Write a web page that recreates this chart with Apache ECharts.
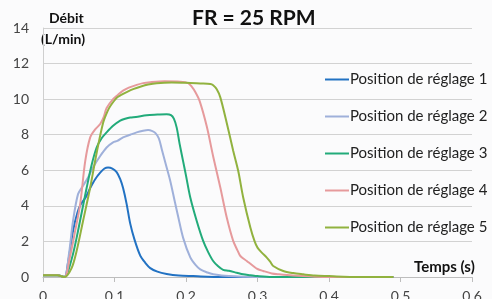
<!DOCTYPE html>
<html>
<head>
<meta charset="utf-8">
<script src="https://cdn.jsdelivr.net/npm/echarts@6/dist/echarts.min.js"></script>
<style>
  html, body { margin: 0; padding: 0; background: #fbfbfc; }
  #chart { width: 492px; height: 299px; }
</style>
</head>
<body>
<div id="chart"></div>
<script>
// débit (L/min) en fonction du temps (s)
var seriesNames = ['Position de réglage 1', 'Position de réglage 2', 'Position de réglage 3', 'Position de réglage 4', 'Position de réglage 5']
var xTicks = [0, 0.1, 0.2, 0.3, 0.4, 0.5, 0.6]
var yTicks = [0, 2, 4, 6, 8, 10, 12, 14]

var pos1 = [[0, 0.1], [0.02, 0.1], [0.03, 0], [0.035, 0.8], [0.042, 2.6], [0.048, 3.6], [0.053, 4.1], [0.06, 4.5],
  [0.066, 5.0], [0.073, 5.5], [0.08, 5.87], [0.086, 6.1], [0.091, 6.16], [0.097, 6.1], [0.103, 5.9], [0.108, 5.5],
  [0.112, 5.0], [0.117, 4.1], [0.122, 3.0], [0.128, 2.1], [0.136, 1.2], [0.143, 0.8], [0.15, 0.5], [0.16, 0.3],
  [0.173, 0.17], [0.19, 0.08], [0.21, 0.05], [0.23, 0.02], [0.26, 0], [0.49, 0]]
var pos2 = [[0, 0.1], [0.02, 0.1], [0.03, 0], [0.036, 1.2], [0.042, 3.15], [0.049, 4.66], [0.056, 5.13], [0.063, 5.6],
  [0.07, 6.16], [0.08, 6.8], [0.089, 7.28], [0.098, 7.57], [0.104, 7.65], [0.112, 7.85], [0.122, 8.0], [0.131, 8.13],
  [0.14, 8.22], [0.147, 8.26], [0.153, 8.2], [0.157, 8.1], [0.162, 7.8], [0.166, 7.2], [0.172, 6.3], [0.178, 5.4],
  [0.184, 4.3], [0.189, 3.4], [0.196, 2.2], [0.206, 1.1], [0.213, 0.7], [0.22, 0.43], [0.23, 0.25], [0.238, 0.15],
  [0.25, 0.08], [0.26, 0.05], [0.28, 0.02], [0.3, 0], [0.49, 0]]
var pos3 = [[0, 0.1], [0.02, 0.1], [0.03, 0], [0.04, 1.0], [0.047, 2.2], [0.054, 3.6], [0.061, 5.0], [0.068, 6.3],
  [0.075, 7.28], [0.082, 7.8], [0.089, 8.13], [0.098, 8.5], [0.108, 8.79], [0.115, 8.9], [0.122, 8.97], [0.13, 9.0],
  [0.145, 9.1], [0.16, 9.13], [0.173, 9.15], [0.179, 9.1], [0.183, 8.9], [0.187, 8.4], [0.191, 7.5], [0.196, 6.5],
  [0.2, 5.7], [0.206, 4.47], [0.215, 3.15], [0.224, 2.03], [0.231, 1.4], [0.238, 0.9], [0.245, 0.6], [0.252, 0.4],
  [0.26, 0.35], [0.271, 0.24], [0.28, 0.15], [0.29, 0.1], [0.3, 0.05], [0.32, 0], [0.49, 0]]
var pos4 = [[0, 0.1], [0.02, 0.1], [0.03, 0], [0.038, 1.2], [0.045, 2.6], [0.052, 4.1], [0.059, 6.5], [0.066, 7.85],
  [0.073, 8.3], [0.08, 8.6], [0.085, 9.0], [0.089, 9.5], [0.098, 10.0], [0.105, 10.25], [0.112, 10.48], [0.12, 10.65],
  [0.131, 10.8], [0.14, 10.9], [0.15, 10.95], [0.17, 11.0], [0.192, 10.98], [0.203, 10.9], [0.208, 10.7], [0.213, 10.4],
  [0.219, 9.9], [0.229, 8.47], [0.238, 6.78], [0.248, 5.03], [0.257, 3.34], [0.266, 2.03], [0.272, 1.5], [0.276, 1.18],
  [0.285, 0.9], [0.294, 0.62], [0.3, 0.45], [0.308, 0.34], [0.32, 0.2], [0.33, 0.15], [0.35, 0.08], [0.38, 0.02],
  [0.4, 0], [0.49, 0]]
var pos5 = [[0, 0.1], [0.02, 0.1], [0.03, 0], [0.04, 0.5], [0.047, 1.46], [0.056, 3.15], [0.066, 5.03], [0.075, 6.97],
  [0.084, 8.66], [0.09, 9.3], [0.094, 9.6], [0.103, 10.07], [0.11, 10.25], [0.117, 10.4], [0.127, 10.58], [0.136, 10.7],
  [0.147, 10.82], [0.159, 10.9], [0.18, 10.94], [0.2, 10.92], [0.22, 10.88], [0.234, 10.85], [0.238, 10.78], [0.243, 10.55],
  [0.248, 10.1], [0.257, 8.66], [0.266, 7.1], [0.273, 5.97], [0.28, 4.47], [0.29, 2.78], [0.296, 2.0], [0.3, 1.65],
  [0.306, 1.37], [0.313, 1.09], [0.318, 0.85], [0.322, 0.62], [0.336, 0.34], [0.35, 0.22], [0.364, 0.15], [0.38, 0.08],
  [0.4, 0.05], [0.42, 0.02], [0.45, 0], [0.49, 0]]

var allData = [pos1, pos2, pos3, pos4, pos5]
var colors = ['#2272c3', '#9fb0da', '#22ab7a', '#e69a9c', '#91b23f']

var chart = echarts.init(document.getElementById('chart'))
chart.setOption({
  backgroundColor: '#fbfbfc',
  animation: false,
  color: colors,
  textStyle: { fontFamily: 'Lato' },
  grid: { left: 43, right: 20, top: 28, bottom: 22, outerBoundsMode: 'none' },
  graphic: [
    { type: 'text', left: 192, top: 8, style: { text: 'FR = 25 RPM', font: 'bold 21px Lato', fill: '#111' } },
    { type: 'text', left: 49, top: 11, style: { text: 'Débit', font: 'bold 14px Lato', fill: '#111' } },
    { type: 'text', left: 41, top: 32, style: { text: '(L/min)', font: 'bold 14px Lato', fill: '#111' } },
    { type: 'text', left: 414, top: 260, style: { text: 'Temps (s)', font: 'bold 15px Lato', fill: '#111' } }
  ],
  legend: {
    orient: 'vertical',
    left: 320,
    top: 66,
    icon: 'rect',
    itemWidth: 24,
    itemHeight: 2,
    itemGap: 20,
    data: seriesNames,
    textStyle: { fontSize: 15, lineHeight: 17, color: '#222', padding: [0, 0, 0, -4] }
  },
  xAxis: {
    type: 'value',
    min: 0,
    max: 0.6,
    interval: 0.1,
    axisLine: { lineStyle: { color: '#bdbdbd' } },
    axisTick: { show: true, length: 5, lineStyle: { color: '#bdbdbd' } },
    axisLabel: { margin: 12, fontSize: 14, color: '#444', formatter: function (v) { return xTicks.indexOf(+v.toFixed(1)) >= 0 ? String(+v.toFixed(1)) : '' } },
    splitLine: { show: false }
  },
  yAxis: {
    type: 'value',
    min: 0,
    max: 14,
    interval: 2,
    axisLine: { show: true, lineStyle: { color: '#cfcfcf' } },
    axisTick: { show: false },
    axisLabel: { margin: 14, fontSize: 14, color: '#444', formatter: function (v) { return yTicks.indexOf(v) >= 0 ? String(v) : '' } },
    splitLine: { lineStyle: { color: '#d2d2d2' } }
  },
  series: allData.map(function (d, i) {
    return {
      name: seriesNames[i],
      type: 'line',
      data: d,
      smooth: 0.3,
      showSymbol: false,
      symbol: 'none',
      lineStyle: { width: 2 },
      z: 2 + i
    }
  })
})
</script>
</body>
</html>
